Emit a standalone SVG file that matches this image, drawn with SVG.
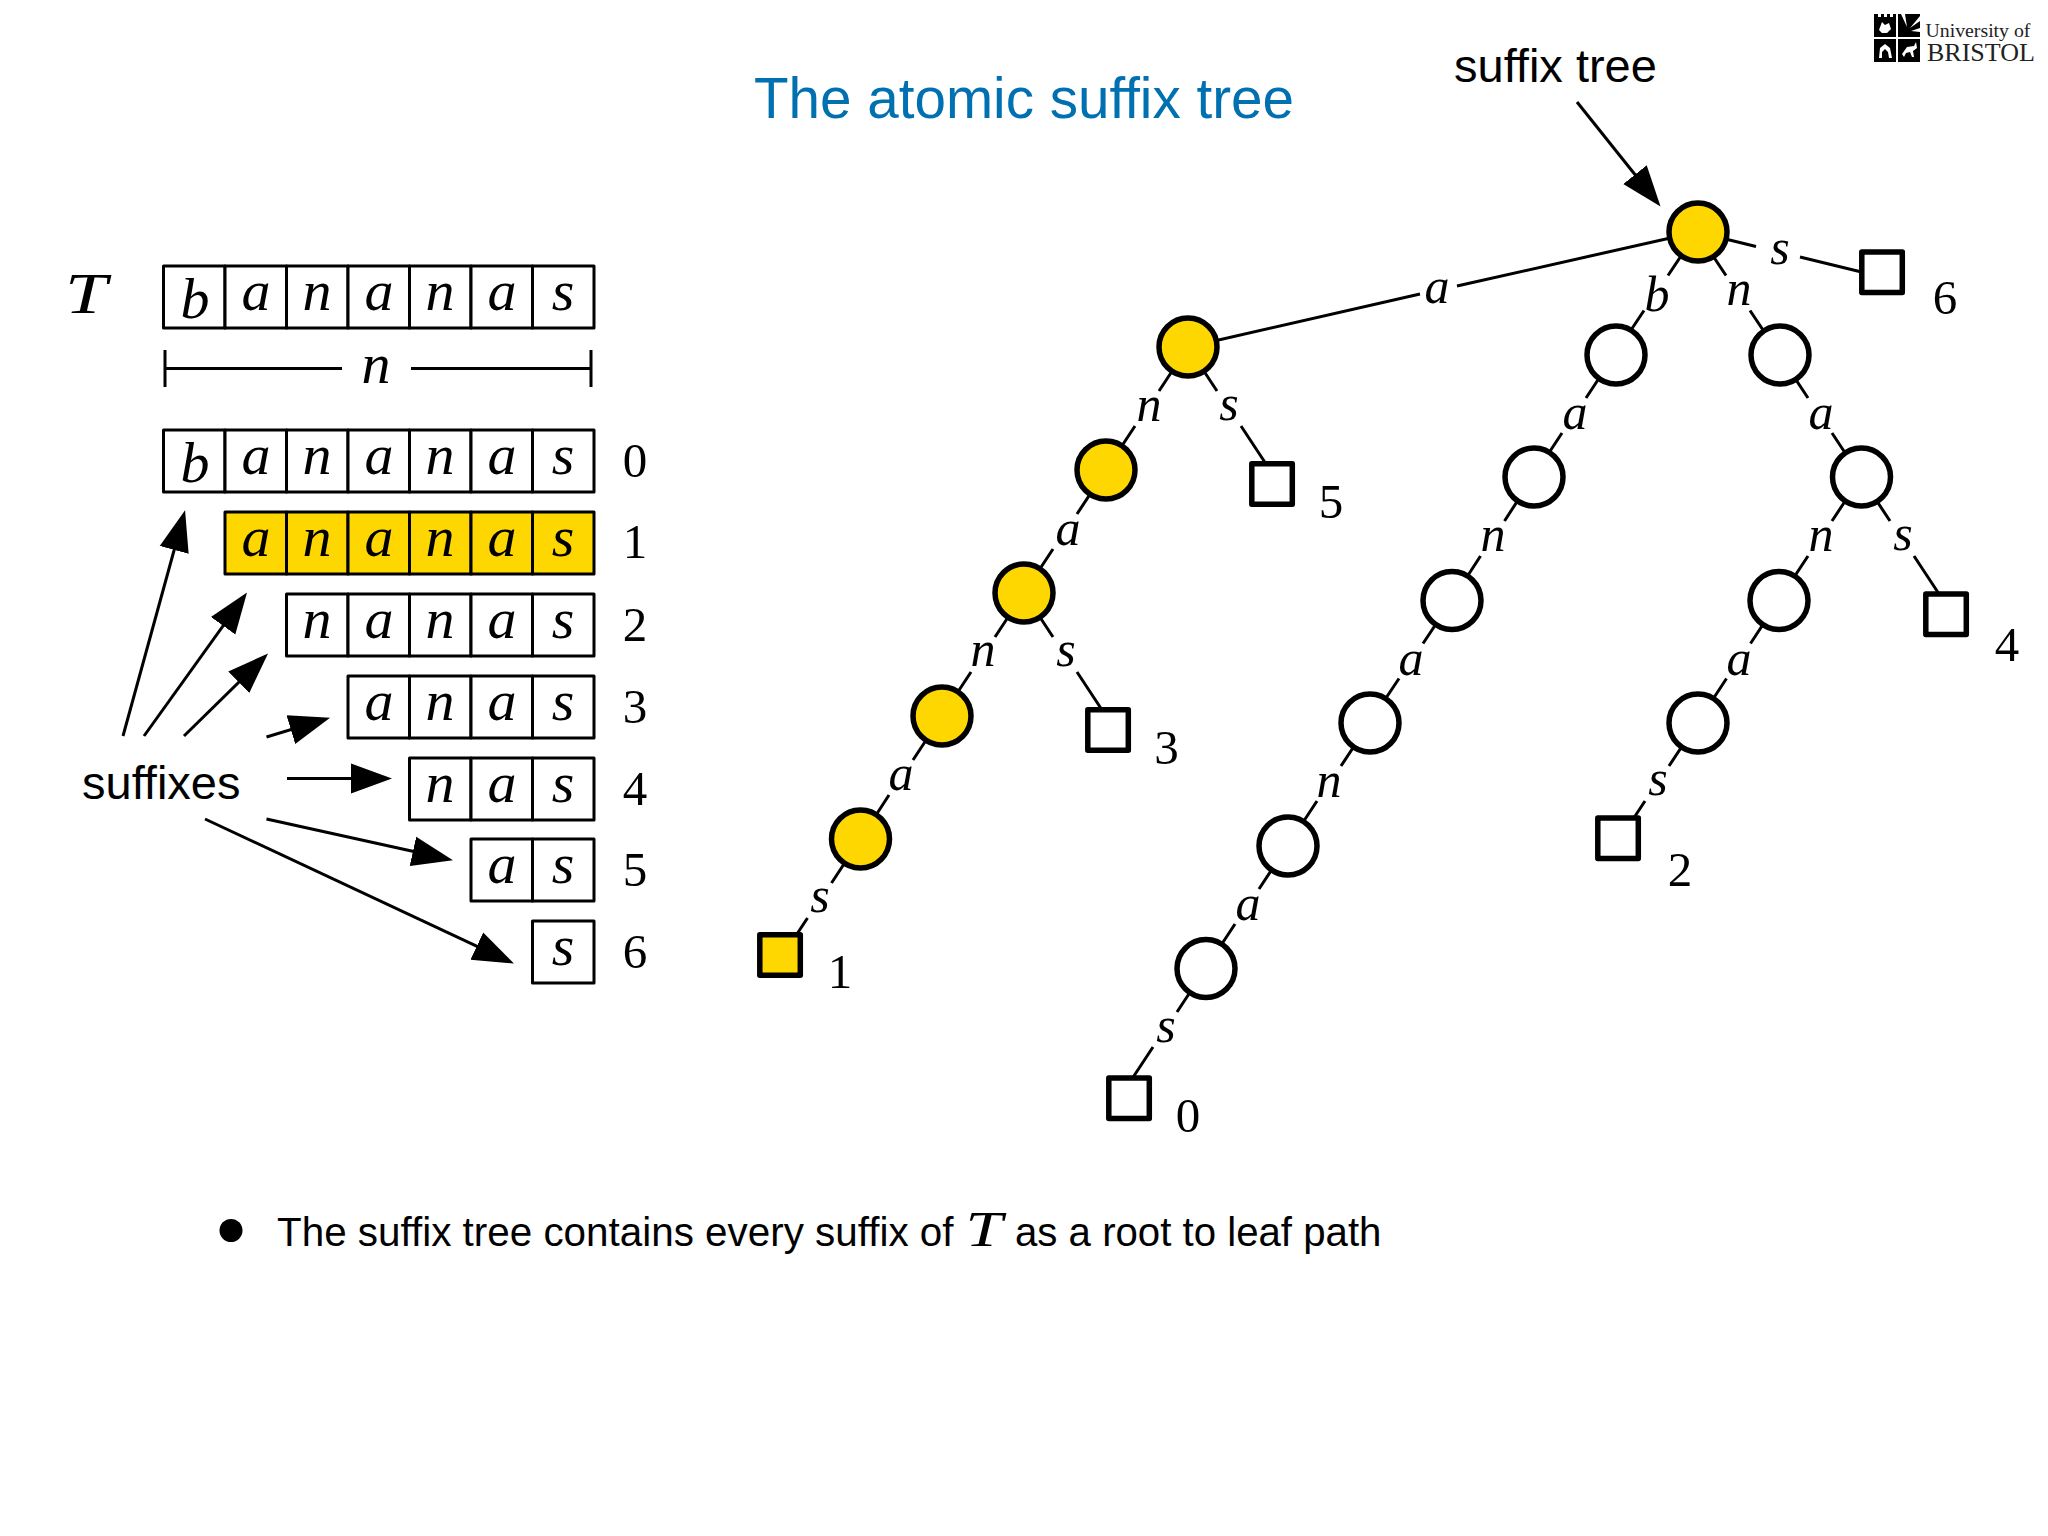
<svg xmlns="http://www.w3.org/2000/svg" width="2048" height="1536" viewBox="0 0 2048 1536">
<style>
.sans{font-family:"Liberation Sans",Arial,sans-serif;fill:#000}
.math{font-family:"Liberation Serif","Times New Roman",serif;font-style:italic;fill:#000;text-anchor:middle}
.cell{font-size:58px}
.edge{font-size:50px}
.num{font-family:"Liberation Serif","Times New Roman",serif;font-size:49px;fill:#000;text-anchor:middle}
.box{fill:#fff;stroke:#000;stroke-width:3;stroke-linejoin:round}
.hl{fill:#ffd700}
.ln{fill:none;stroke:#000;stroke-width:3}
.arr{fill:none;stroke:#000;stroke-width:3;marker-end:url(#head)}
.n{fill:#fff;stroke:#000;stroke-width:5.5}
.lf{fill:#fff;stroke:#000;stroke-width:5.5;stroke-linejoin:round}
.y{fill:#ffd700}
</style>
<defs>
<marker id="head" markerUnits="userSpaceOnUse" markerWidth="42" markerHeight="32" viewBox="0 0 42 32" refX="31" refY="16" orient="auto"><path d="M0 1 L41 16 L0 31 Z" fill="#000"/></marker>
</defs>
<rect width="2048" height="1536" fill="#fff"/>
<text id="title" class="sans" x="754" y="118" font-size="56.6" style="fill:#0070b0">The atomic suffix tree</text>

<g id="logo">
<rect x="1874" y="14" width="22" height="23" fill="#000"/>
<rect x="1898" y="14" width="22" height="23" fill="#000"/>
<rect x="1874" y="39" width="22" height="23" fill="#000"/>
<rect x="1898" y="39" width="22" height="23" fill="#000"/>
<path d="M1878 14h3v3h-3zM1884 14h3v3h-3zM1890 14h3v3h-3z" fill="#fff"/>
<path d="M1879 30l3-8 3 3 4-2 2 6-4 4h-5z" fill="#fff"/>
<path d="M1901 14l6 13 -2 -13zM1920 16l-10 12 10-7zM1920 28l-9 3 9 1z" fill="#fff"/>
<path d="M1879 58l1-10 5-4 5 4 2 10h-3l-1-6-3-3-3 3 0 6z" fill="#fff"/>
<path d="M1902 54l5-7 7-1 2-4 1 6-4 3 1 6h-2l-2-5-4 1-2 4z" fill="#fff"/>
<text x="1925.5" y="37" font-family="Liberation Serif,serif" font-size="19.8" fill="#222">University of</text>
<text x="1927" y="61" font-family="Liberation Serif,serif" font-size="26" fill="#222">BRISTOL</text>
</g>

<g id="text-T">
<text class="math" x="86" y="313" font-size="58" textLength="42" lengthAdjust="spacingAndGlyphs">T</text>
<g id="T-cells">
<rect class="box" x="163.5" y="266" width="61.5" height="62"/><rect class="box" x="225" y="266" width="61.5" height="62"/><rect class="box" x="286.5" y="266" width="61.5" height="62"/><rect class="box" x="348" y="266" width="61.5" height="62"/><rect class="box" x="409.5" y="266" width="61.5" height="62"/><rect class="box" x="471" y="266" width="61.5" height="62"/><rect class="box" x="532.5" y="266" width="61.5" height="62"/>
<text class="math cell" x="195" y="318">b</text><text class="math cell" x="256" y="310">a</text><text class="math cell" x="317" y="310">n</text><text class="math cell" x="379" y="310">a</text><text class="math cell" x="440" y="310">n</text><text class="math cell" x="502" y="310">a</text><text class="math cell" x="563" y="310">s</text>
</g>
<path class="ln" d="M165 350V387M591 350V387M165 368.5H342M411 368.5H591"/>
<text class="math cell" x="376" y="383">n</text>
</g>

<g id="suffix-0">
<rect class="box" x="163.5" y="430" width="61.5" height="62"/><rect class="box" x="225" y="430" width="61.5" height="62"/><rect class="box" x="286.5" y="430" width="61.5" height="62"/><rect class="box" x="348" y="430" width="61.5" height="62"/><rect class="box" x="409.5" y="430" width="61.5" height="62"/><rect class="box" x="471" y="430" width="61.5" height="62"/><rect class="box" x="532.5" y="430" width="61.5" height="62"/>
<text class="math cell" x="195" y="482">b</text><text class="math cell" x="256" y="474">a</text><text class="math cell" x="317" y="474">n</text><text class="math cell" x="379" y="474">a</text><text class="math cell" x="440" y="474">n</text><text class="math cell" x="502" y="474">a</text><text class="math cell" x="563" y="474">s</text>
<text class="num" x="635" y="477">0</text>
</g>
<g id="suffix-1">
<rect class="box hl" x="225" y="512" width="61.5" height="62"/><rect class="box hl" x="286.5" y="512" width="61.5" height="62"/><rect class="box hl" x="348" y="512" width="61.5" height="62"/><rect class="box hl" x="409.5" y="512" width="61.5" height="62"/><rect class="box hl" x="471" y="512" width="61.5" height="62"/><rect class="box hl" x="532.5" y="512" width="61.5" height="62"/>
<text class="math cell" x="256" y="556">a</text><text class="math cell" x="317" y="556">n</text><text class="math cell" x="379" y="556">a</text><text class="math cell" x="440" y="556">n</text><text class="math cell" x="502" y="556">a</text><text class="math cell" x="563" y="556">s</text>
<text class="num" x="635" y="558">1</text>
</g>
<g id="suffix-2">
<rect class="box" x="286.5" y="594" width="61.5" height="62"/><rect class="box" x="348" y="594" width="61.5" height="62"/><rect class="box" x="409.5" y="594" width="61.5" height="62"/><rect class="box" x="471" y="594" width="61.5" height="62"/><rect class="box" x="532.5" y="594" width="61.5" height="62"/>
<text class="math cell" x="317" y="638">n</text><text class="math cell" x="379" y="638">a</text><text class="math cell" x="440" y="638">n</text><text class="math cell" x="502" y="638">a</text><text class="math cell" x="563" y="638">s</text>
<text class="num" x="635" y="641">2</text>
</g>
<g id="suffix-3">
<rect class="box" x="348" y="676" width="61.5" height="62"/><rect class="box" x="409.5" y="676" width="61.5" height="62"/><rect class="box" x="471" y="676" width="61.5" height="62"/><rect class="box" x="532.5" y="676" width="61.5" height="62"/>
<text class="math cell" x="379" y="720">a</text><text class="math cell" x="440" y="720">n</text><text class="math cell" x="502" y="720">a</text><text class="math cell" x="563" y="720">s</text>
<text class="num" x="635" y="723">3</text>
</g>
<g id="suffix-4">
<rect class="box" x="409.5" y="758" width="61.5" height="62"/><rect class="box" x="471" y="758" width="61.5" height="62"/><rect class="box" x="532.5" y="758" width="61.5" height="62"/>
<text class="math cell" x="440" y="802">n</text><text class="math cell" x="502" y="802">a</text><text class="math cell" x="563" y="802">s</text>
<text class="num" x="635" y="805">4</text>
</g>
<g id="suffix-5">
<rect class="box" x="471" y="839" width="61.5" height="62"/><rect class="box" x="532.5" y="839" width="61.5" height="62"/>
<text class="math cell" x="502" y="883">a</text><text class="math cell" x="563" y="883">s</text>
<text class="num" x="635" y="886">5</text>
</g>
<g id="suffix-6">
<rect class="box" x="532.5" y="921" width="61.5" height="62"/>
<text class="math cell" x="563" y="965">s</text>
<text class="num" x="635" y="968">6</text>
</g>

<g id="callouts">
<text class="sans" x="82" y="799" font-size="47">suffixes</text>
<text class="sans" x="1454" y="82" font-size="47">suffix tree</text>
</g>

<g id="connectors">
<g id="arrows">
<line class="arr" x1="123" y1="736" x2="182.4" y2="520"/>
<line class="arr" x1="144" y1="736" x2="241.2" y2="600.6"/>
<line class="arr" x1="184" y1="736" x2="260.9" y2="660.5"/>
<line class="arr" x1="266.5" y1="737" x2="320.5" y2="720.6"/>
<line class="arr" x1="287" y1="778.5" x2="382" y2="778.5"/>
<line class="arr" x1="266.5" y1="819" x2="443.2" y2="858"/>
<line class="arr" x1="205" y1="819" x2="504.9" y2="959.3"/>
<line class="arr" x1="1577" y1="102" x2="1654.3" y2="198.8"/>
</g>
<path id="tree-edges" class="ln" d="M1697 232L1457 286M1420 294L1188 347
M1697 232L1756 246.5M1800 257L1882 277
M1188 347L1159 391M1135 426L1106 470
M1106 470L1077 514M1053 549L1024 593
M1024 593L995 637M971 672L942 716
M942 716L913 760M889 795L860.5 839
M860.5 839L831.5 883M807.5 918L778.5 962
M1188 347L1217 391M1241 426L1270 470
M1024 593L1053 637M1077 672L1106 716
M1697 232L1668 275.5M1644 310.5L1615 354
M1615 354L1586 398M1562 433L1533 477
M1533 477L1504.5 521M1480.5 556L1452 600
M1452 600L1423 643.5M1399 678.5L1370 722
M1370 722L1341 766M1317 801L1288 845
M1288 845L1259 889M1235 924L1206 968
M1206 968L1177 1012M1153 1047L1124 1091
M1697 232L1726 275.5M1750 310.5L1779 354
M1779 354L1808 398M1832 433L1861 477
M1861 477L1832 521M1808 556L1779 600
M1779 600L1750.5 643.5M1726.5 678.5L1698 722
M1698 722L1669 766M1645 801L1616 845
M1861 477L1890 521M1914 556L1943 600"/>
<g id="edge-labels">
<text class="math edge" x="1437" y="303">a</text>
<text class="math edge" x="1780" y="264">s</text>
<text class="math edge" x="1149" y="421">n</text>
<text class="math edge" x="1068" y="545">a</text>
<text class="math edge" x="983" y="666">n</text>
<text class="math edge" x="901" y="790">a</text>
<text class="math edge" x="820" y="912">s</text>
<text class="math edge" x="1229" y="420">s</text>
<text class="math edge" x="1066" y="666">s</text>
<text class="math edge" x="1657" y="311">b</text>
<text class="math edge" x="1575" y="429">a</text>
<text class="math edge" x="1493" y="551">n</text>
<text class="math edge" x="1411" y="675">a</text>
<text class="math edge" x="1329" y="797">n</text>
<text class="math edge" x="1248" y="920">a</text>
<text class="math edge" x="1166" y="1042">s</text>
<text class="math edge" x="1739" y="305">n</text>
<text class="math edge" x="1821" y="429">a</text>
<text class="math edge" x="1821" y="551">n</text>
<text class="math edge" x="1739" y="675">a</text>
<text class="math edge" x="1658" y="795">s</text>
<text class="math edge" x="1903" y="550">s</text>
</g>
</g>

<g id="nodes">
<circle id="root" class="n y" cx="1698" cy="232" r="29"/>
<circle id="a" class="n y" cx="1188" cy="347" r="29"/>
<circle id="an" class="n y" cx="1106" cy="470" r="29"/>
<circle id="ana" class="n y" cx="1024" cy="593" r="29"/>
<circle id="anan" class="n y" cx="942" cy="716" r="29"/>
<circle id="anana" class="n y" cx="860.5" cy="839" r="29"/>
<circle id="b" class="n" cx="1616" cy="355" r="29"/>
<circle id="ba" class="n" cx="1534" cy="477" r="29"/>
<circle id="ban" class="n" cx="1452" cy="600.5" r="29"/>
<circle id="bana" class="n" cx="1370" cy="723" r="29"/>
<circle id="banan" class="n" cx="1288" cy="846" r="29"/>
<circle id="banana" class="n" cx="1206" cy="968.5" r="29"/>
<circle id="n" class="n" cx="1780" cy="355" r="29"/>
<circle id="na" class="n" cx="1861.5" cy="477" r="29"/>
<circle id="nan" class="n" cx="1779" cy="600.5" r="29"/>
<circle id="nana" class="n" cx="1698" cy="723" r="29"/>
<g id="leaf-6"><rect class="lf" x="1861.8" y="252" width="40.5" height="40.5"/><text class="num" x="1945" y="314">6</text></g>
<g id="leaf-5"><rect class="lf" x="1251.8" y="463.8" width="40.5" height="40.5"/><text class="num" x="1331" y="518">5</text></g>
<g id="leaf-3"><rect class="lf" x="1087.8" y="709.8" width="40.5" height="40.5"/><text class="num" x="1166.5" y="764">3</text></g>
<g id="leaf-1"><rect class="lf y" x="759.8" y="934.8" width="40.5" height="40.5"/><text class="num" x="840" y="988">1</text></g>
<g id="leaf-0"><rect class="lf" x="1108.8" y="1078" width="40.5" height="40.5"/><text class="num" x="1188" y="1132">0</text></g>
<g id="leaf-2"><rect class="lf" x="1597.8" y="818" width="40.5" height="40.5"/><text class="num" x="1680" y="886">2</text></g>
<g id="leaf-4"><rect class="lf" x="1925.8" y="594" width="40.5" height="40.5"/><text class="num" x="2007" y="661">4</text></g>
</g>

<g id="bullet">
<circle cx="231" cy="1230.5" r="11.5" fill="#000"/>
<text class="sans" x="277" y="1246" font-size="40.4">The suffix tree contains every suffix of</text>
<text class="math" x="984" y="1246" font-size="50" textLength="37" lengthAdjust="spacingAndGlyphs">T</text>
<text class="sans" x="1015" y="1246" font-size="40.2">as a root to leaf path</text>
</g>
</svg>
